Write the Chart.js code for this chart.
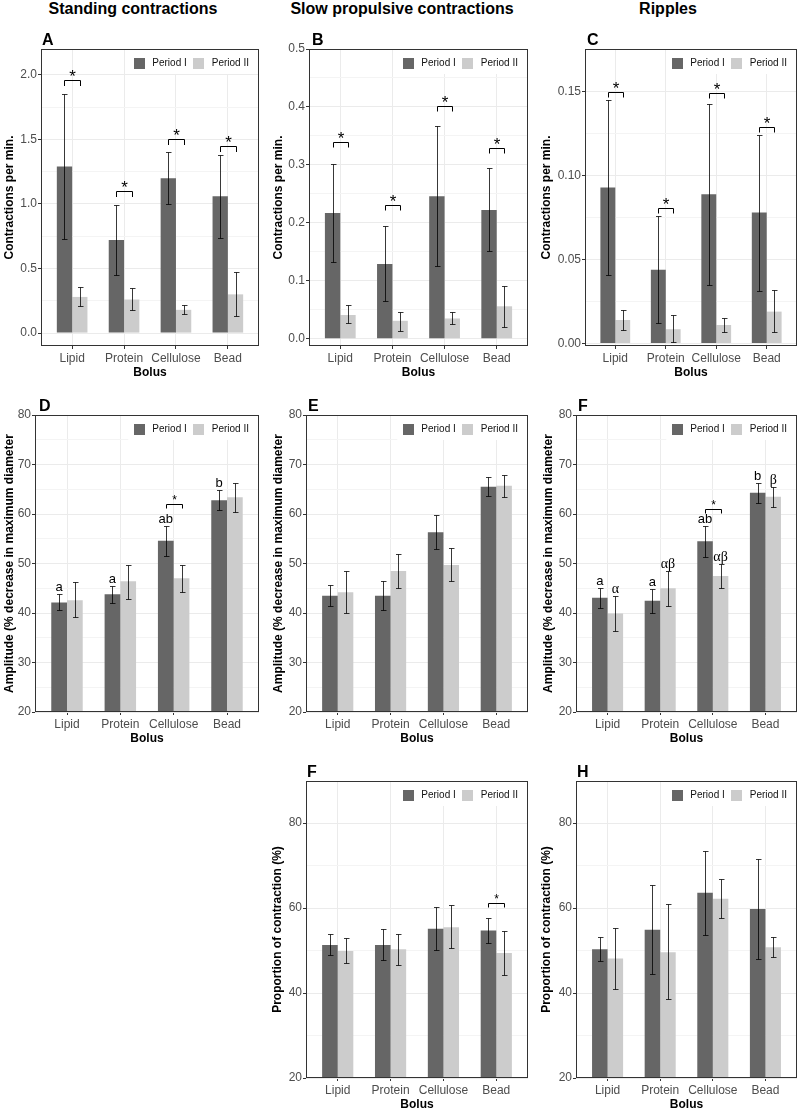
<!DOCTYPE html>
<html>
<head>
<meta charset="utf-8">
<script src="https://cdn.jsdelivr.net/npm/chart.js@4.4.0/dist/chart.umd.min.js"></script>
<style>
  body { margin: 0; background: #fff; font-family: "Liberation Sans", Arial, sans-serif; }
  #fig { position: relative; width: 800px; height: 1112px; overflow: hidden; }
  #fig canvas { position: absolute; }
  .sec { position: absolute; top: 0; line-height: 18px; font-weight: bold; font-size: 16px; transform: translateX(-50%); white-space: nowrap; color: #000; }
</style>
</head>
<body>
<div id="fig">
  <div class="sec" style="left:133px">Standing contractions</div>
  <div class="sec" style="left:402px">Slow propulsive contractions</div>
  <div class="sec" style="left:668px">Ripples</div>
</div>
<script>
const bolus = ['Lipid', 'Protein', 'Cellulose', 'Bead'];
const periodNames = ['Period I', 'Period II'];

// A - standing contractions, per min
const aP1 = [1.29, 0.72, 1.20, 1.06];
const aP1Lo = [0.73, 0.45, 1.00, 0.74];
const aP1Hi = [1.85, 0.99, 1.40, 1.38];
const aP2 = [0.28, 0.26, 0.18, 0.30];
const aP2Lo = [0.21, 0.18, 0.15, 0.13];
const aP2Hi = [0.36, 0.35, 0.22, 0.47];
const aSig = [1.96, 1.10, 1.50, 1.45];

// B - slow propulsive contractions, per min
const bP1 = [0.217, 0.129, 0.246, 0.222];
const bP1Lo = [0.132, 0.066, 0.126, 0.151];
const bP1Hi = [0.302, 0.194, 0.367, 0.294];
const bP2 = [0.041, 0.031, 0.035, 0.056];
const bP2Lo = [0.027, 0.014, 0.025, 0.021];
const bP2Hi = [0.059, 0.046, 0.046, 0.091];
const bSig = [0.340, 0.230, 0.401, 0.330];

// C - ripples, per min
const cP1 = [0.093, 0.044, 0.089, 0.078];
const cP1Lo = [0.041, 0.012, 0.035, 0.031];
const cP1Hi = [0.145, 0.076, 0.143, 0.124];
const cP2 = [0.014, 0.0085, 0.011, 0.019];
const cP2Lo = [0.008, 0.0006, 0.007, 0.007];
const cP2Hi = [0.020, 0.017, 0.015, 0.032];
const cSig = [0.150, 0.081, 0.149, 0.129];

// D - standing contractions, amplitude
const dP1 = [42.1, 43.8, 54.6, 62.8];
const dP1Lo = [40.6, 42.1, 51.6, 60.8];
const dP1Hi = [43.9, 45.4, 57.6, 64.8];
const dP2 = [42.6, 46.4, 47.0, 63.4];
const dP2Lo = [39.2, 42.9, 44.3, 60.5];
const dP2Hi = [46.2, 49.7, 49.6, 66.3];
const dSig = [null, null, 62.0, null];
const dLetters1 = ['a', 'a', 'ab', 'b'];

// E - slow propulsive, amplitude
const eP1 = [43.5, 43.5, 56.3, 65.5];
const eP1Lo = [41.5, 40.7, 53.0, 63.6];
const eP1Hi = [45.6, 46.4, 59.7, 67.5];
const eP2 = [44.2, 48.5, 49.7, 65.7];
const eP2Lo = [40.0, 45.0, 46.5, 63.5];
const eP2Hi = [48.5, 51.9, 53.1, 67.9];

// F - ripples, amplitude
const fP1 = [43.1, 42.5, 54.5, 64.3];
const fP1Lo = [41.1, 40.1, 51.4, 62.3];
const fP1Hi = [45.0, 44.9, 57.5, 66.3];
const fP2 = [39.9, 45.0, 47.5, 63.5];
const fP2Lo = [36.3, 41.4, 45.1, 61.5];
const fP2Hi = [43.5, 48.5, 49.9, 65.5];
const fSig = [null, null, 61.0, null];
const fLetters1 = ['a', 'a', 'ab', 'b'];
const fLetters2 = ['α', 'αβ', 'αβ', 'β'];

// second F - slow propulsive, proportion of contraction
const gP1 = [51.3, 51.3, 55.1, 54.7];
const gP1Lo = [48.9, 47.8, 50.1, 51.7];
const gP1Hi = [53.9, 55.0, 60.2, 57.7];
const gP2 = [49.9, 50.3, 55.5, 49.4];
const gP2Lo = [47.0, 46.5, 50.6, 44.3];
const gP2Hi = [53.0, 54.0, 60.6, 54.6];
const gSig = [null, null, null, 61.1];

// H - ripples, proportion of contraction
const hP1 = [50.3, 54.9, 63.6, 59.8];
const hP1Lo = [47.5, 44.4, 53.7, 48.1];
const hP1Hi = [53.3, 65.4, 73.5, 71.5];
const hP2 = [48.1, 49.6, 62.2, 50.8];
const hP2Lo = [40.9, 38.5, 57.6, 48.4];
const hP2Hi = [55.4, 60.9, 66.9, 53.2];

const DARK = '#666666';
const LIGHT = '#CCCCCC';
const SANS = '"Liberation Sans", Arial, sans-serif';
const SERIF = '"Liberation Serif", "DejaVu Serif", serif';
Chart.defaults.font.family = SANS;

const freqTitle = 'Contractions per min.';
const ampTitle = 'Amplitude (% decrease in maximum diameter';
const propTitle = 'Proportion of contraction (%)';

const panels = [
  { tag: 'A', box: [41, 49, 259, 346], col: 0, yMin: -0.1, yMax: 2.2, major: 0.5, minor: 0.25, dec: 1,
    yTitle: freqTitle, titleX: 10, tagDx: 1, star: 17, starDy: 1.5, tick: 5.5,
    s1: [aP1, aP1Lo, aP1Hi], s2: [aP2, aP2Lo, aP2Hi], sig: aSig },
  { tag: 'B', box: [309, 49, 528, 346], col: 265, yMin: -0.0125, yMax: 0.5, major: 0.1, minor: 0.05, dec: 1,
    yTitle: freqTitle, titleX: 14, tagDx: 3, star: 17, starDy: 1.5, tick: 5,
    s1: [bP1, bP1Lo, bP1Hi], s2: [bP2, bP2Lo, bP2Hi], sig: bSig },
  { tag: 'C', box: [585, 49, 797, 346], col: 530, yMin: -0.0015, yMax: 0.1755, major: 0.05, minor: 0.025, dec: 2,
    yTitle: freqTitle, titleX: 17, tagDx: 2, star: 17, starDy: 1.5, tick: 5,
    s1: [cP1, cP1Lo, cP1Hi], s2: [cP2, cP2Lo, cP2Hi], sig: cSig },
  { tag: 'D', box: [35, 415, 259, 712], col: 0, yMin: 20, yMax: 80, major: 10, minor: 5, dec: 0,
    yTitle: ampTitle, titleX: 10, tagDx: 4, star: 12, starDy: -0.5, tick: 4,
    s1: [dP1, dP1Lo, dP1Hi], s2: [dP2, dP2Lo, dP2Hi], sig: dSig, let1: dLetters1 },
  { tag: 'E', box: [306, 415, 528, 712], col: 265, yMin: 20, yMax: 80, major: 10, minor: 5, dec: 0,
    yTitle: ampTitle, titleX: 14, tagDx: 2, star: 12, starDy: -0.5, tick: 4,
    s1: [eP1, eP1Lo, eP1Hi], s2: [eP2, eP2Lo, eP2Hi] },
  { tag: 'F', box: [576, 415, 797, 712], col: 530, yMin: 20, yMax: 80, major: 10, minor: 5, dec: 0,
    yTitle: ampTitle, titleX: 19, tagDx: 2, star: 12, starDy: -0.5, tick: 4,
    s1: [fP1, fP1Lo, fP1Hi], s2: [fP2, fP2Lo, fP2Hi], sig: fSig, let1: fLetters1, let2: fLetters2 },
  { tag: 'F', box: [306, 781, 528, 1078], col: 265, yMin: 20, yMax: 89.9, major: 20, minor: 10, dec: 0,
    yTitle: propTitle, titleX: 13, tagDx: 1, star: 12, starDy: -0.5, tick: 4,
    s1: [gP1, gP1Lo, gP1Hi], s2: [gP2, gP2Lo, gP2Hi], sig: gSig },
  { tag: 'H', box: [576, 781, 797, 1078], col: 530, yMin: 20, yMax: 89.9, major: 20, minor: 10, dec: 0,
    yTitle: propTitle, titleX: 17, tagDx: 1, star: 12, starDy: -0.5, tick: 4,
    s1: [hP1, hP1Lo, hP1Hi], s2: [hP2, hP2Lo, hP2Hi] }
];

function annotations(p) {
  return {
    id: 'annot',
    afterDatasetsDraw(chart) {
      const ctx = chart.ctx, ys = chart.scales.y, area = chart.chartArea;
      const bars = [chart.getDatasetMeta(0).data, chart.getDatasetMeta(1).data];
      const px = v => ys.getPixelForValue(v);
      ctx.save();

      // error bars
      ctx.strokeStyle = 'rgba(0,0,0,0.78)';
      ctx.lineWidth = 1;
      [p.s1, p.s2].forEach((s, d) => {
        bars[d].forEach((bar, i) => {
          const x = Math.round(bar.x) + 0.5;
          const lo = Math.round(px(s[1][i])) + 0.5, hi = Math.round(px(s[2][i])) + 0.5;
          ctx.beginPath();
          ctx.moveTo(x, lo); ctx.lineTo(x, hi);
          ctx.moveTo(x - 2.5, lo); ctx.lineTo(x + 3, lo);
          ctx.moveTo(x - 2.5, hi); ctx.lineTo(x + 3, hi);
          ctx.stroke();
        });
      });

      // significance brackets
      if (p.sig) {
        ctx.strokeStyle = '#000';
        ctx.fillStyle = '#000';
        ctx.font = p.star + 'px ' + SANS;
        ctx.textAlign = 'center';
        ctx.textBaseline = 'alphabetic';
        p.sig.forEach((v, i) => {
          if (v == null) return;
          const xa = Math.round(bars[0][i].x) + 0.5, xb = Math.round(bars[1][i].x) + 0.5;
          const y = Math.round(px(v)) + 0.5;
          ctx.beginPath();
          ctx.moveTo(xa, y + p.tick); ctx.lineTo(xa, y); ctx.lineTo(xb, y); ctx.lineTo(xb, y + p.tick);
          ctx.stroke();
          ctx.fillText('*', (xa + xb) / 2, y + p.starDy);
        });
      }

      // group letters
      ctx.fillStyle = '#000';
      ctx.textAlign = 'center';
      ctx.textBaseline = 'alphabetic';
      [[p.let1, p.s1, bars[0]], [p.let2, p.s2, bars[1]]].forEach(([letters, s, bs]) => {
        if (!letters) return;
        letters.forEach((t, i) => {
          ctx.font = (/[α-ω]/.test(t) ? '14px ' + SERIF : '13px ' + SANS);
          ctx.fillText(t, bs[i].x, px(s[2][i]) - 3);
        });
      });

      // legend
      ctx.font = '10px ' + SANS;
      const r = area.right - 10, cy = area.top + 14.5;
      const w1 = ctx.measureText(periodNames[0]).width, w2 = ctx.measureText(periodNames[1]).width;
      const t2 = r - w2, s2 = t2 - 8 - 11, t1 = s2 - 6 - w1, s1 = t1 - 7 - 11;
      ctx.fillStyle = '#fff';
      ctx.fillRect(s1 - 6, area.top + 1, area.right - (s1 - 6) - 1, 24);
      ctx.fillStyle = DARK;
      ctx.fillRect(Math.round(s1), Math.round(cy - 5.5), 11, 11);
      ctx.fillStyle = LIGHT;
      ctx.fillRect(Math.round(s2), Math.round(cy - 5.5), 11, 11);
      ctx.fillStyle = '#111';
      ctx.textAlign = 'left';
      ctx.textBaseline = 'middle';
      ctx.fillText(periodNames[0], t1, cy);
      ctx.fillText(periodNames[1], t2, cy);
      ctx.restore();
    },
    afterDraw(chart) {
      const ctx = chart.ctx, area = chart.chartArea;
      ctx.save();
      ctx.strokeStyle = '#333';
      ctx.lineWidth = 1;
      ctx.strokeRect(area.left + 0.5, area.top + 0.5, area.right - area.left - 1, area.bottom - area.top - 1);
      ctx.fillStyle = '#000';
      ctx.font = 'bold 16px ' + SANS;
      ctx.textAlign = 'left';
      ctx.textBaseline = 'alphabetic';
      ctx.fillText(p.tag, area.left + p.tagDx, area.top - 4.5);
      ctx.restore();
    }
  };
}

const fig = document.getElementById('fig');

panels.forEach(p => {
  const [x0, y0, x1, y1] = p.box;
  const top = y0 - 22, bottom = y1 + 34;
  const canvas = document.createElement('canvas');
  canvas.width = x1 + 2 - p.col;
  canvas.height = bottom - top;
  canvas.style.left = p.col + 'px';
  canvas.style.top = top + 'px';
  fig.appendChild(canvas);

  const yTicks = [];
  for (let k = Math.ceil(p.yMin / p.minor - 1e-9); k * p.minor <= p.yMax + 1e-9; k++) {
    yTicks.push(+(k * p.minor).toFixed(6));
  }
  const isMajor = v => Math.abs(v / p.major - Math.round(v / p.major)) < 1e-6;

  new Chart(canvas, {
    type: 'bar',
    data: {
      datasets: [
        { label: periodNames[0], data: p.s1[0].map((v, i) => ({ x: i, y: v })), backgroundColor: DARK },
        { label: periodNames[1], data: p.s2[0].map((v, i) => ({ x: i, y: v })), backgroundColor: LIGHT }
      ]
    },
    options: {
      responsive: false,
      animation: false,
      devicePixelRatio: 1,
      categoryPercentage: 0.59,
      barPercentage: 1,
      layout: { padding: { top: 22, right: 2, left: 0, bottom: 0 } },
      plugins: { legend: { display: false }, tooltip: { enabled: false } },
      scales: {
        x: {
          type: 'linear', min: -0.6, max: 3.6, offset: false,
          afterBuildTicks: s => { s.ticks = bolus.map((_, i) => ({ value: i })); },
          afterFit: s => { s.height = 34; },
          ticks: { callback: v => bolus[v], color: '#4D4D4D', font: { size: 12 }, padding: 2, maxRotation: 0, autoSkip: false },
          grid: { color: '#EBEBEB', tickColor: '#333', tickLength: 3, offset: false },
          border: { display: false },
          title: { display: true, text: 'Bolus', color: '#000', font: { size: 12, weight: 'bold' }, padding: { top: 0, bottom: 0 } }
        },
        y: {
          min: p.yMin, max: p.yMax,
          afterBuildTicks: s => { s.ticks = yTicks.map(v => ({ value: v })); },
          afterFit: s => { s.width = x0 - p.col; },
          ticks: { callback: v => isMajor(v) ? v.toFixed(p.dec) : '', color: '#4D4D4D', font: { size: 12 }, padding: 1, autoSkip: false },
          grid: {
            color: c => isMajor(c.tick.value) ? '#EBEBEB' : '#F4F4F4',
            tickColor: c => isMajor(c.tick.value) ? '#333' : 'rgba(0,0,0,0)',
            tickLength: 3
          },
          border: { display: false },
          title: { display: true, text: p.yTitle, color: '#000', font: { size: 12, weight: 'bold' }, padding: { top: p.titleX - 7.2, bottom: 0 } }
        }
      }
    },
    plugins: [annotations(p)]
  });
});
</script>
</body>
</html>
